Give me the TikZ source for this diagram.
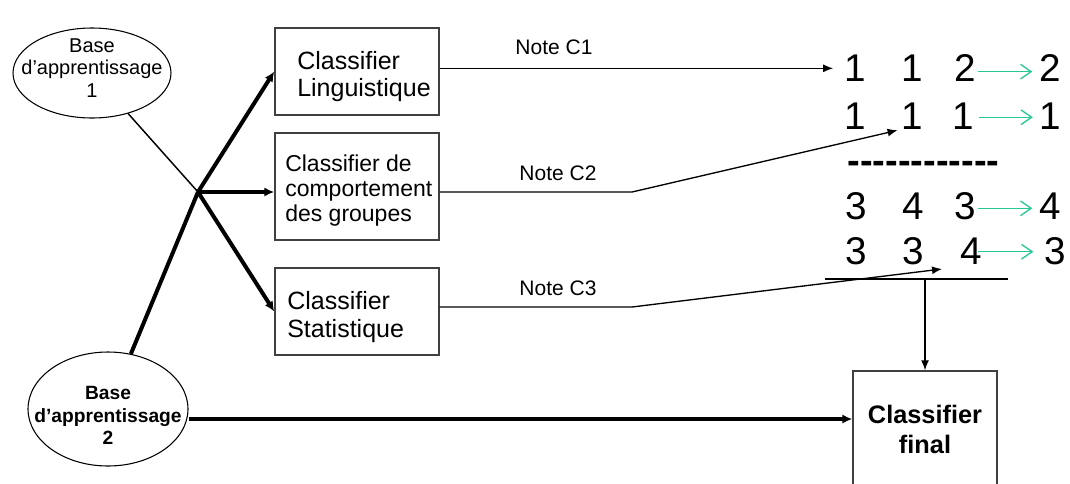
\documentclass[tikz,border=0pt]{standalone}
\usepackage{fontspec}
\setmainfont{Liberation Sans}
\usetikzlibrary{shapes.geometric,arrows.meta,calc}
\definecolor{tealg}{RGB}{40,200,150}
\begin{document}
\begin{tikzpicture}[x=0.75pt,y=-0.75pt,
  base/.style={draw=black, line width=0.8pt, ellipse, inner sep=0pt},
  boxshape/.style={draw=black!75, line width=1.1pt, rectangle, inner sep=0pt},
  boxtxt/.style={anchor=west, align=left, inner sep=0pt},
  digit/.style={inner sep=0pt, font=\fontsize{29}{30}\selectfont},
  note/.style={inner sep=0pt, font=\fontsize{15.75}{18}\selectfont},
  thinarr/.style={line width=1pt, -{Latex[length=7.5pt,width=6pt]}},
  thickarr/.style={line width=3pt, -{Latex[length=7.5pt,width=7pt]}},
  garr/.style={draw=tealg, line width=1pt, -{Straight Barb[length=8pt,width=11pt,line width=1pt]}}
]
\useasboundingbox (0,0) rectangle (1070,483);

% ellipses
\node[base, minimum width=118.5pt, minimum height=67.5pt] (e1) at (92,73) {};
\node[inner sep=0pt, align=center, font=\fontsize{15}{17}\selectfont] (e1t) at (92,68) {Base\\d’apprentissage\\1};
\node[base, minimum width=120pt, minimum height=85.5pt] (e2) at (108,409) {};
\node[inner sep=0pt, align=center, font=\bfseries\fontsize{14.4}{17}\selectfont] (e2t) at (108,415.5) {Base\\d’apprentissage\\2};

% classifier boxes
\node[boxshape, minimum width=123pt, minimum height=65.25pt] (c1) at (357,71.5) {};
\node[boxtxt, font=\fontsize{18.75}{20.25}\selectfont] (c1t) at (297,77) {Classifier\\Linguistique};
\node[boxshape, minimum width=123pt, minimum height=80.25pt] (c2) at (357,186.5) {};
\node[boxtxt, font=\fontsize{17.25}{18.75}\selectfont] (c2t) at (285,191) {Classifier de\\comportement\\des groupes};
\node[boxshape, minimum width=123pt, minimum height=65.25pt] (c3) at (357,311.5) {};
\node[boxtxt, font=\fontsize{18.75}{21}\selectfont] (c3t) at (287,317.5) {Classifier\\Statistique};

\node[boxshape, minimum width=108pt, minimum height=87pt, align=center,
      font=\bfseries\fontsize{19}{22.5}\selectfont] (final) at (925,429) {Classifier\\final};

% hub
\coordinate (hub) at (198,192);
\draw[line width=1.1pt] (e1) -- (hub);
\draw[line width=3pt] (e2) -- (hub);
\draw[thickarr] (hub) -- (c1.west);
\draw[thickarr] (hub) -- (hub -| c2.west);
\draw[thickarr] (hub) -- (c3.west);

% digits
\node[digit] (d11) at (855.5,68.3) {1};
\node[digit] (d12) at (912.5,68.3) {1};
\node[digit] (d13) at (965,68.3) {2};
\node[digit] (d14) at (1050,68.3) {2};
\node[digit] (d21) at (855.5,115.8) {1};
\node[digit] (d22) at (912.5,115.8) {1};
\node[digit] (d23) at (963.5,115.8) {1};
\node[digit] (d24) at (1050.5,115.8) {1};
\node[digit, font=\bfseries\fontsize{28.5}{30}\selectfont, anchor=base] (dash) at (923.5,173) {-{}-{}-{}-{}-{}-{}-{}-{}-{}-{}-{}-};
\node[digit] (d31) at (856,206.3) {3};
\node[digit] (d32) at (913,206.3) {4};
\node[digit] (d33) at (965,206.3) {3};
\node[digit] (d34) at (1050,206.3) {4};
\node[digit] (d41) at (856,250.8) {3};
\node[digit] (d42) at (913,250.8) {3};
\node[digit] (d43) at (971,250.8) {4};
\node[digit] (d44) at (1055,250.8) {3};

\draw[garr, shorten >=5pt] ([yshift=-2.5pt]d13.east) ++(1.5pt,0) -- ([yshift=-2.5pt]d14.west);
\draw[garr, shorten >=5pt] ([yshift=-1.1pt]d23.east) ++(3pt,0) -- ([yshift=-1.1pt]d24.west);
\draw[garr, shorten >=5pt] ([yshift=-1.5pt]d33.east) ++(1.5pt,0) -- ([yshift=-1.5pt]d34.west);
\draw[garr, shorten >=8pt] ([yshift=-0.7pt]d43.east) ++(-3pt,0) -- ([yshift=-0.7pt]d44.west);

% notes
\node[note] (n1) at (554,47.5) {Note C1};
\node[note] (n2) at (558,173.5) {Note C2};
\node[note] (n3) at (558,288.5) {Note C3};

\coordinate (b2) at (632,192);
\coordinate (b3) at (632,307);
\coordinate (t3) at (942,269);
\draw[thinarr, shorten >=8.5pt] (c1.east |- d11.west) -- (d11.west);
\draw[thinarr, shorten >=3pt] (c2.east |- b2) -- (b2) -- (d22.south west);
\draw[thinarr] (c3.east |- b3) -- (b3) -- (t3);

% bottom line and final
\coordinate (hl) at (825,279);
\coordinate (hr) at (1008,279);
\draw[line width=1pt] (hl) -- (hr);
\draw[thinarr] (final.north |- hl) -- (final.north);
\coordinate (e2o) at ($(e2.east)+(0,10)$);
\draw[thickarr] (e2o) -- (e2o -| final.west);
\end{tikzpicture}
\end{document}
